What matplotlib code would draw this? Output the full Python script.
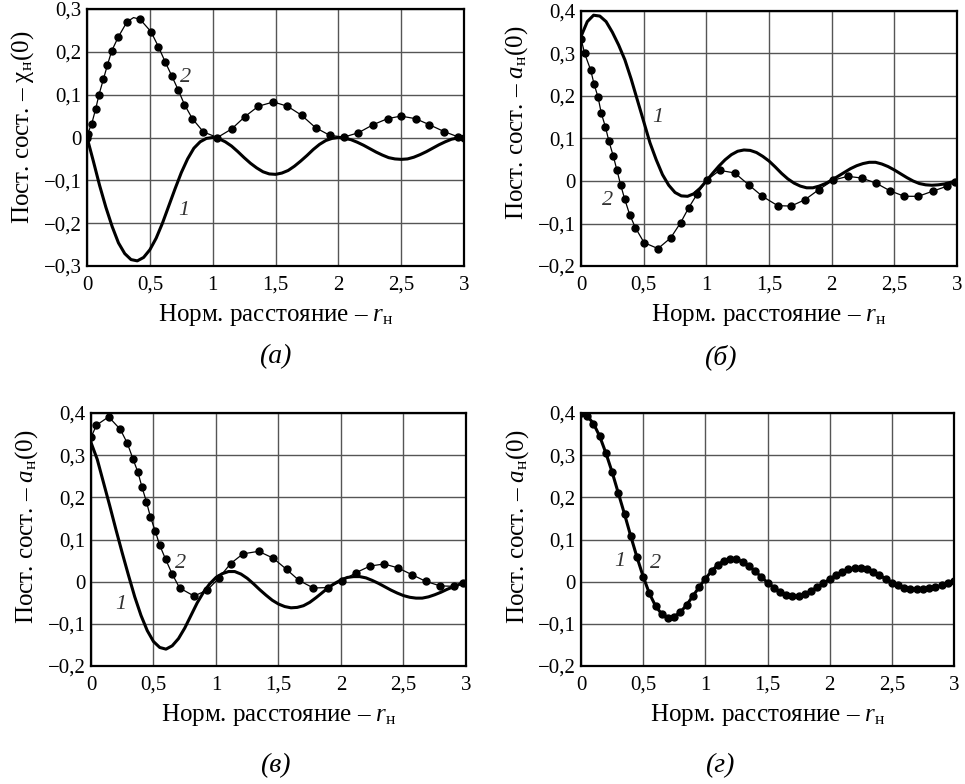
import matplotlib
matplotlib.use("Agg")
import matplotlib.pyplot as plt

plt.rcParams['font.family'] = ['Liberation Serif', 'DejaVu Serif']
plt.rcParams['mathtext.fontset'] = 'custom'
plt.rcParams['mathtext.rm'] = 'Liberation Serif'
plt.rcParams['mathtext.it'] = 'Liberation Serif:italic'

# common x grid for the solid curves (step 0.05)
r = [i * 0.05 for i in range(61)]

x_ticks = [0, 0.5, 1, 1.5, 2, 2.5, 3]
x_ticklabels = ['0', '0,5', '1', '1,5', '2', '2,5', '3']
y_ticks_a = [-0.3, -0.2, -0.1, 0, 0.1, 0.2, 0.3]
y_ticklabels_a = ['−0,3', '−0,2', '−0,1', '0', '0,1', '0,2', '0,3']
y_ticks = [-0.2, -0.1, 0, 0.1, 0.2, 0.3, 0.4]
y_ticklabels = ['−0,2', '−0,1', '0', '0,1', '0,2', '0,3', '0,4']

# (а) curve 1 - solid
a1 = [0.0, -0.055, -0.112, -0.163, -0.208, -0.246, -0.271, -0.285, -0.288, -0.280,
      -0.262, -0.235, -0.200, -0.160, -0.120, -0.082, -0.050, -0.025, -0.010, -0.002,
      0.0, -0.003, -0.010, -0.020, -0.033, -0.047, -0.060, -0.071, -0.080, -0.085,
      -0.086, -0.083, -0.077, -0.067, -0.055, -0.042, -0.028, -0.016, -0.007, -0.002,
      0.0, -0.002, -0.005, -0.011, -0.018, -0.026, -0.034, -0.041, -0.047, -0.050,
      -0.051, -0.050, -0.046, -0.040, -0.033, -0.025, -0.017, -0.010, -0.004, -0.001,
      0.0]
# (а) curve 2 - dotted
a2_x = [0.0, 0.005, 0.037, 0.069, 0.095, 0.130, 0.162, 0.196, 0.249, 0.318, 0.370,
        0.422, 0.509, 0.568, 0.621, 0.674, 0.727, 0.775, 0.838, 0.926, 1.037, 1.151,
        1.257, 1.363, 1.483, 1.595, 1.707, 1.818, 1.932, 2.044, 2.158, 2.277, 2.391,
        2.497, 2.614, 2.723, 2.840, 2.948, 3.0]
a2_y = [0.0, 0.009, 0.032, 0.067, 0.100, 0.136, 0.169, 0.202, 0.235, 0.270, 0.280,
        0.276, 0.247, 0.212, 0.177, 0.144, 0.110, 0.077, 0.044, 0.013, 0.0, 0.020,
        0.049, 0.073, 0.083, 0.073, 0.052, 0.023, 0.005, 0.001, 0.011, 0.030, 0.044,
        0.050, 0.044, 0.030, 0.014, 0.002, 0.0]
# dots drawn on curve (а)2 (the peak point carries no dot)
a2_dots = [i for i in range(len(a2_x)) if i != 10]

# (б) curve 1 - solid
b1 = [0.340, 0.375, 0.390, 0.388, 0.375, 0.350, 0.320, 0.285, 0.240, 0.190,
      0.140, 0.090, 0.050, 0.015, -0.010, -0.027, -0.035, -0.036, -0.030, -0.017,
      0.0, 0.018, 0.035, 0.050, 0.062, 0.070, 0.073, 0.072, 0.067, 0.058,
      0.047, 0.033, 0.018, 0.005, -0.005, -0.012, -0.016, -0.016, -0.012, -0.006,
      0.002, 0.011, 0.020, 0.029, 0.036, 0.041, 0.044, 0.044, 0.040, 0.034,
      0.026, 0.017, 0.008, 0.0, -0.006, -0.009, -0.010, -0.009, -0.007, -0.003,
      0.0]
# (б) curve 2 - dotted
b2_x = [0.0, 0.029, 0.077, 0.104, 0.136, 0.162, 0.194, 0.223, 0.258, 0.287, 0.316,
        0.348, 0.388, 0.434, 0.503, 0.614, 0.715, 0.795, 0.859, 0.928, 1.008, 1.106,
        1.226, 1.338, 1.447, 1.569, 1.676, 1.787, 1.899, 2.013, 2.128, 2.239, 2.354,
        2.465, 2.580, 2.691, 2.806, 2.918, 2.984]
b2_y = [0.335, 0.300, 0.261, 0.228, 0.197, 0.159, 0.128, 0.093, 0.058, 0.025, -0.009,
        -0.042, -0.079, -0.110, -0.145, -0.159, -0.134, -0.098, -0.063, -0.030, 0.003, 0.025,
        0.019, -0.009, -0.036, -0.058, -0.059, -0.044, -0.020, 0.002, 0.011, 0.007, -0.005,
        -0.023, -0.036, -0.036, -0.024, -0.0125, -0.003]

# (в) curve 1 - solid
c1 = [0.330, 0.290, 0.235, 0.180, 0.123, 0.068, 0.015, -0.036, -0.080, -0.116,
      -0.142, -0.156, -0.160, -0.152, -0.135, -0.110, -0.080, -0.050, -0.025, -0.005,
      0.010, 0.019, 0.024, 0.024, 0.018, 0.008, -0.005, -0.019, -0.032, -0.044,
      -0.053, -0.059, -0.062, -0.061, -0.057, -0.049, -0.038, -0.026, -0.014, -0.004,
      0.004, 0.010, 0.012, 0.012, 0.009, 0.003, -0.004, -0.012, -0.020, -0.027,
      -0.033, -0.037, -0.039, -0.039, -0.036, -0.031, -0.025, -0.018, -0.012, -0.006,
      -0.001]
# (в) curve 2 - dotted
c2_x = [0.0, 0.043, 0.141, 0.235, 0.291, 0.336, 0.376, 0.408, 0.443, 0.475, 0.515,
        0.549, 0.597, 0.648, 0.709, 0.824, 0.931, 1.024, 1.117, 1.216, 1.341, 1.456,
        1.565, 1.664, 1.779, 1.893, 2.005, 2.117, 2.232, 2.344, 2.453, 2.565, 2.677,
        2.792, 2.904, 2.979]
c2_y = [0.342, 0.371, 0.391, 0.361, 0.328, 0.291, 0.259, 0.224, 0.190, 0.154, 0.119,
        0.087, 0.053, 0.019, -0.015, -0.034, -0.020, 0.009, 0.043, 0.066, 0.072, 0.056,
        0.029, 0.003, -0.015, -0.014, 0.001, 0.021, 0.037, 0.042, 0.033, 0.017, 0.001,
        -0.010, -0.011, -0.002]

# (г) both curves lie on top of each other
d1 = [0.400, 0.393, 0.375, 0.345, 0.305, 0.260, 0.210, 0.160, 0.108, 0.058,
      0.012, -0.028, -0.058, -0.077, -0.085, -0.083, -0.072, -0.055, -0.034, -0.013,
      0.007, 0.025, 0.040, 0.050, 0.054, 0.053, 0.047, 0.037, 0.025, 0.011,
      -0.002, -0.014, -0.024, -0.031, -0.034, -0.033, -0.029, -0.022, -0.013, -0.004,
      0.006, 0.015, 0.023, 0.029, 0.032, 0.032, 0.029, 0.023, 0.015, 0.007,
      -0.002, -0.009, -0.014, -0.017, -0.018, -0.018, -0.016, -0.013, -0.009, -0.004,
      0.002]
d2 = d1


def setup_axes(ax, yticks, yticklabels, ylabel, label_y):
    ax.set_xlim(0, 3)
    ax.set_ylim(yticks[0], yticks[-1])
    ax.set_xticks(x_ticks)
    ax.set_xticklabels(x_ticklabels)
    ax.set_yticks(yticks)
    ax.set_yticklabels(yticklabels)
    ax.tick_params(length=0, labelsize=15)
    ax.tick_params(axis='x', pad=7)
    ax.tick_params(axis='y', pad=4)
    ax.grid(True, color='#555555', linewidth=1.0)
    ax.set_axisbelow(True)
    for s in ax.spines.values():
        s.set_linewidth(1.6)
    ax.set_xlabel('Норм. расстояние – $r_{\\mathrm{н}}$', fontsize=18, labelpad=5)
    ax.set_ylabel(ylabel, fontsize=18)
    ax.yaxis.set_label_coords(-0.135, label_y)


def curve_label(ax, x, y, s):
    ax.text(x, y, s, fontsize=16, style='italic', color='#333333', ha='center', va='center')


fig = plt.figure(figsize=(9.65, 7.84), dpi=100)

ylabel_chi = 'Пост. сост. – $\\mathrm{χ}_{\\mathrm{н}}(0)$'
ylabel_a = 'Пост. сост. – $a_{\\mathrm{н}}(0)$'

# (а)
ax = fig.add_axes([0.0902, 0.6607, 0.3907, 0.3278])
setup_axes(ax, y_ticks_a, y_ticklabels_a, ylabel_chi, 0.54)
ax.plot(r, a1, color='black', linewidth=2.2)
ax.plot(a2_x, a2_y, color='black', linewidth=0.9, marker='o', markersize=5, markevery=a2_dots)
curve_label(ax, 0.78, 0.14, '2')
curve_label(ax, 0.77, -0.17, '1')

# (б)
ax = fig.add_axes([0.6021, 0.6607, 0.3896, 0.3253])
setup_axes(ax, y_ticks, y_ticklabels, ylabel_a, 0.56)
ax.plot(r, b1, color='black', linewidth=2.2)
ax.plot(b2_x, b2_y, color='black', linewidth=0.9, marker='o', markersize=5)
curve_label(ax, 0.615, 0.15, '1')
curve_label(ax, 0.215, -0.045, '2')

# (в)
ax = fig.add_axes([0.0943, 0.1505, 0.3886, 0.3227])
setup_axes(ax, y_ticks, y_ticklabels, ylabel_a, 0.55)
ax.plot(r, c1, color='black', linewidth=2.2)
ax.plot(c2_x, c2_y, color='black', linewidth=0.9, marker='o', markersize=5)
curve_label(ax, 0.72, 0.044, '2')
curve_label(ax, 0.24, -0.055, '1')

# (г)
ax = fig.add_axes([0.6021, 0.1505, 0.3865, 0.3227])
setup_axes(ax, y_ticks, y_ticklabels, ylabel_a, 0.55)
ax.plot(r, d1, color='black', linewidth=2.2)
ax.plot(r, d2, color='black', linewidth=0.9, linestyle='none', marker='o', markersize=5)
curve_label(ax, 0.31, 0.047, '1')
curve_label(ax, 0.60, 0.044, '2')

for x, y, s in [(275, 357, '(а)'), (720, 357, '(б)'), (275, 766, '(в)'), (720, 766, '(г)')]:
    fig.text(x / 965, 1 - y / 784, s, fontsize=20, style='italic', ha='center', va='center')

fig.savefig('out.png', dpi=100)
